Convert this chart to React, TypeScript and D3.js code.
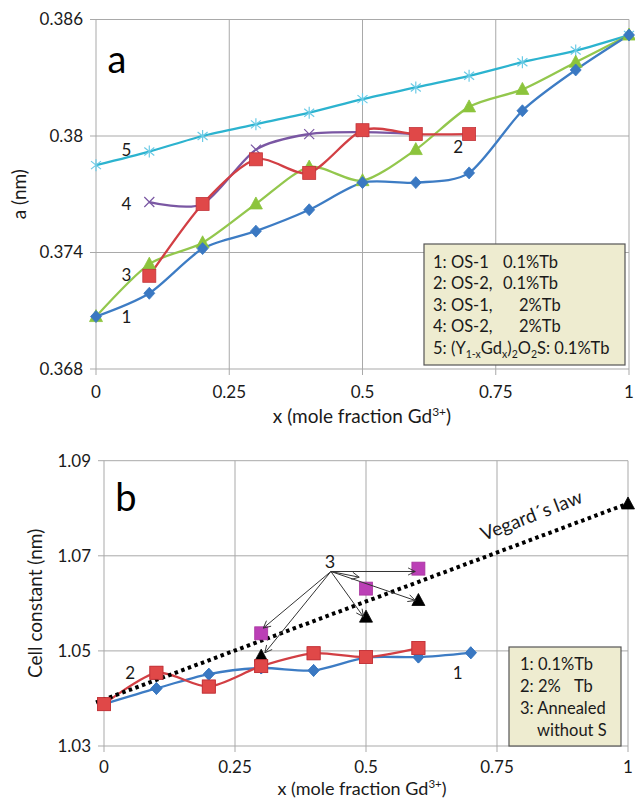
import * as d3 from "d3";

// ---- data ----------------------------------------------------------------
const xTicks = [0, 0.25, 0.5, 0.75, 1];
const xTickLabels = ["0", "0.25", "0.5", "0.75", "1"];

const topYTicks = [0.368, 0.374, 0.38, 0.386];
const topYTickLabels = ["0.368", "0.374", "0.38", "0.386"];

const botYTicks = [1.03, 1.05, 1.07, 1.09];
const botYTickLabels = ["1.03", "1.05", "1.07", "1.09"];

// panel a: lattice parameter a (nm)
const xFull = [0, 0.1, 0.2, 0.3, 0.4, 0.5, 0.6, 0.7, 0.8, 0.9, 1];
const os1Tb01 = [0.3707, 0.3719, 0.3742, 0.3751, 0.3762, 0.3776, 0.3776, 0.3781, 0.3813, 0.3834, 0.3852];
const xOs2Tb01 = [0.1, 0.2, 0.3, 0.4, 0.5, 0.6, 0.7];
const os2Tb01 = [0.3728, 0.3765, 0.3788, 0.3781, 0.3803, 0.3801, 0.3801];
const os1Tb2 = [0.3707, 0.3734, 0.3745, 0.3765, 0.3784, 0.3777, 0.3793, 0.3815, 0.3824, 0.3838, 0.3852];
const xOs2Tb2 = [0.1, 0.2, 0.3, 0.4, 0.5, 0.6];
const os2Tb2 = [0.3766, 0.3765, 0.3793, 0.3801, 0.3802, 0.3801];
const ygosTb01 = [0.3785, 0.3792, 0.38, 0.3806, 0.3812, 0.3819, 0.3825, 0.3831, 0.3838, 0.3844, 0.3852];

// panel b: cell constant (nm)
const xCell01 = [0, 0.1, 0.2, 0.3, 0.4, 0.5, 0.6, 0.7];
const cellTb01 = [1.0388, 1.0421, 1.0451, 1.0464, 1.0459, 1.0486, 1.0487, 1.0496];
const xCell2 = [0, 0.1, 0.2, 0.3, 0.4, 0.5, 0.6];
const cellTb2 = [1.0388, 1.0454, 1.0425, 1.0468, 1.0495, 1.0487, 1.0506];
const xAnnealSq = [0.3, 0.5, 0.6];
const annealSq = [1.0537, 1.0631, 1.0673];
const xAnnealTri = [0.3, 0.5, 0.6, 1];
const annealTri = [1.0489, 1.0571, 1.0606, 1.0809];
const vegardX = [0, 1];
const vegardY = [1.0385, 1.081];

// arrows for label "3": origin, then tips (data coords)
const arrowOrigin = [0.433, 1.0667];
const arrowTipsX = [0.304, 0.307, 0.487, 0.495, 0.594, 0.594];
const arrowTipsY = [1.0548, 1.0496, 1.0655, 1.0572, 1.0606, 1.0667];

// ---- style ---------------------------------------------------------------
const FONT = "Lato, 'Open Sans', sans-serif";
const GRID = "#a9a9a9";
const TEXT = "#1a1a1a";

type Shape = "diamond" | "square" | "triangle" | "cross" | "asterisk";

function Marker({ x, y, shape, fill, stroke }: { x: number; y: number; shape: Shape; fill: string; stroke?: string }) {
  if (shape === "diamond")
    return <path d={`M${x},${y - 6}L${x + 5.5},${y}L${x},${y + 6}L${x - 5.5},${y}Z`} fill={fill} stroke={stroke ?? fill} strokeWidth={0.8} />;
  if (shape === "square")
    return <rect x={x - 6.5} y={y - 6.5} width={13} height={13} fill={fill} stroke={stroke ?? fill} strokeWidth={0.8} />;
  if (shape === "triangle")
    return <path d={`M${x},${y - 7}L${x + 6.5},${y + 5}L${x - 6.5},${y + 5}Z`} fill={fill} stroke={stroke ?? fill} strokeWidth={0.8} />;
  if (shape === "cross")
    return (
      <path d={`M${x - 5},${y - 5}L${x + 5},${y + 5}M${x - 5},${y + 5}L${x + 5},${y - 5}`} stroke={fill} strokeWidth={1.2} fill="none" />
    );
  return (
    <path
      d={`M${x - 5},${y - 4}L${x + 5},${y + 4}M${x - 5},${y + 4}L${x + 5},${y - 4}M${x},${y - 6}L${x},${y + 6}`}
      stroke={fill}
      strokeWidth={1.2}
      fill="none"
    />
  );
}

type Series = { xs: number[]; ys: number[]; line?: string; fill: string; stroke?: string; shape: Shape };

function Panel({
  x0, x1, yTop, yBot, domain, yTicks, yTickLabels, series, tickGap,
}: {
  x0: number; x1: number; yTop: number; yBot: number; domain: [number, number];
  yTicks: number[]; yTickLabels: string[]; series: Series[]; tickGap: number;
}) {
  const x = d3.scaleLinear().domain([0, 1]).range([x0, x1]);
  const y = d3.scaleLinear().domain(domain).range([yBot, yTop]);
  const line = d3
    .line<[number, number]>()
    .x((d) => x(d[0]))
    .y((d) => y(d[1]))
    .curve(d3.curveCardinal.tension(0.2));
  return (
    <g>
      {yTicks.map((t, i) => (
        <g key={"y" + i}>
          <line x1={x0 - 6} x2={x1} y1={y(t)} y2={y(t)} stroke={GRID} strokeWidth={1} />
          <text x={x0 - 13} y={y(t)} dy="0.35em" textAnchor="end" fontSize={17} fill={TEXT}>
            {yTickLabels[i]}
          </text>
        </g>
      ))}
      {xTicks.map((t, i) => (
        <g key={"x" + i}>
          <line x1={x(t)} x2={x(t)} y1={yTop} y2={yBot + 6} stroke={GRID} strokeWidth={1} />
          <text x={x(t)} y={yBot + tickGap} dy="0.35em" textAnchor="middle" fontSize={17} fill={TEXT}>
            {xTickLabels[i]}
          </text>
        </g>
      ))}
      {series.map((s, i) =>
        s.line ? (
          <path
            key={"l" + i}
            d={line(s.xs.map((v, j) => [v, s.ys[j]] as [number, number])) ?? ""}
            fill="none"
            stroke={s.line}
            strokeWidth={2.3}
          />
        ) : null
      )}
      {series.map((s, i) =>
        s.xs.map((v, j) => <Marker key={`m${i}-${j}`} x={x(v)} y={y(s.ys[j])} shape={s.shape} fill={s.fill} stroke={s.stroke} />)
      )}
    </g>
  );
}

export default function App() {
  // panel geometry
  const ax0 = 96, ax1 = 629, aTop = 19.5, aBot = 369;
  const bx0 = 104, bx1 = 628, bTop = 460.7, bBot = 746;
  const xb = d3.scaleLinear().domain([0, 1]).range([bx0, bx1]);
  const yb = d3.scaleLinear().domain([1.03, 1.09]).range([bBot, bTop]);
  const xa = d3.scaleLinear().domain([0, 1]).range([ax0, ax1]);
  const ya = d3.scaleLinear().domain([0.368, 0.386]).range([aBot, aTop]);

  const seriesA: Series[] = [
    { xs: xFull, ys: ygosTb01, line: "#2cb3cf", fill: "#6ccbe6", shape: "asterisk" },
    { xs: xOs2Tb2, ys: os2Tb2, line: "#7a57a3", fill: "#7a57a3", shape: "cross" },
    { xs: xFull, ys: os1Tb2, line: "#93c74d", fill: "#8cc43c", shape: "triangle" },
    { xs: xOs2Tb01, ys: os2Tb01, line: "#d23f44", fill: "#e04848", stroke: "#c2343a", shape: "square" },
    { xs: xFull, ys: os1Tb01, line: "#3d7cc4", fill: "#3a78c2", shape: "diamond" },
  ];
  const seriesB: Series[] = [
    { xs: xCell01, ys: cellTb01, line: "#3d7cc4", fill: "#3a78c2", shape: "diamond" },
    { xs: xCell2, ys: cellTb2, line: "#d23f44", fill: "#e04848", stroke: "#c2343a", shape: "square" },
    { xs: xAnnealSq, ys: annealSq, fill: "#bb3fb6", stroke: "#a8369f", shape: "square" },
    { xs: xAnnealTri, ys: annealTri, fill: "#000", shape: "triangle" },
  ];

  const vx0 = xb(vegardX[0]), vy0 = yb(vegardY[0]), vx1 = xb(vegardX[1]), vy1 = yb(vegardY[1]);
  const vAngle = (Math.atan2(vy1 - vy0, vx1 - vx0) * 180) / Math.PI;
  const vLabelT = 0.832;
  const vLabelX = xb(vLabelT);
  const vLabelY = yb(vegardY[0] + (vegardY[1] - vegardY[0]) * vLabelT);

  const ox = xb(arrowOrigin[0]), oy = yb(arrowOrigin[1]);

  return (
    <svg
      width={635}
      height={800}
      style={{ position: "absolute", left: 0, top: 0, background: "#fff" }}
      fontFamily={FONT}
    >
      <defs>
        <marker id="open-arrow" viewBox="0 0 10 10" refX={9} refY={5} markerWidth={9} markerHeight={9} orient="auto" markerUnits="userSpaceOnUse">
          <path d="M1,1L9,5L1,9" fill="none" stroke="#333" strokeWidth={1} />
        </marker>
      </defs>

      {/* ---------- panel a ---------- */}
      <Panel x0={ax0} x1={ax1} yTop={aTop} yBot={aBot} domain={[0.368, 0.386]} yTicks={topYTicks} yTickLabels={topYTickLabels} series={seriesA} tickGap={23} />
      <text x={117} y={60} dy="0.35em" textAnchor="middle" fontSize={38} fill="#000">a</text>
      <text transform={`translate(19,${(aTop + aBot) / 2}) rotate(-90)`} textAnchor="middle" dy="0.35em" fontSize={19} fill={TEXT}>a (nm)</text>
      <text x={362} y={416} dy="0.35em" textAnchor="middle" fontSize={19} fill={TEXT}>
        x (mole fraction Gd<tspan fontSize={12} dy={-7}>3+</tspan><tspan dy={7}>)</tspan>
      </text>
      <g fontSize={17} fill={TEXT}>
        <text x={xa(0.1) - 18} y={ya(0.37928)} dy="0.35em" textAnchor="end">5</text>
        <text x={xa(0.1) - 18} y={ya(0.3765)} dy="0.35em" textAnchor="end">4</text>
        <text x={xa(0.1) - 18} y={ya(0.37284)} dy="0.35em" textAnchor="end">3</text>
        <text x={xa(0.1) - 18} y={ya(0.37068)} dy="0.35em" textAnchor="end">1</text>
        <text x={xa(0.7) - 11} y={ya(0.37943)} dy="0.35em" textAnchor="middle">2</text>
      </g>
      <rect x={424} y={244} width={201} height={121} fill="#eeecd0" stroke="#555" strokeWidth={1.2} />
      <g fontSize={16.5} fill={TEXT}>
        <text x={433} y={262} dy="0.35em">1: OS-1</text>
        <text x={503} y={262} dy="0.35em">0.1%Tb</text>
        <text x={433} y={283.5} dy="0.35em">2: OS-2,</text>
        <text x={503} y={283.5} dy="0.35em">0.1%Tb</text>
        <text x={433} y={305} dy="0.35em">3: OS-1,</text>
        <text x={519} y={305} dy="0.35em">2%Tb</text>
        <text x={433} y={326.5} dy="0.35em">4: OS-2,</text>
        <text x={519} y={326.5} dy="0.35em">2%Tb</text>
        <text x={433} y={348} dy="0.35em">
          5: (Y<tspan fontSize={10.5} dy={4}>1-x</tspan>
          <tspan dy={-4}>Gd</tspan>
          <tspan fontSize={10.5} dy={4}>x</tspan>
          <tspan dy={-4}>)</tspan>
          <tspan fontSize={10.5} dy={4}>2</tspan>
          <tspan dy={-4}>O</tspan>
          <tspan fontSize={10.5} dy={4}>2</tspan>
          <tspan dy={-4}>S: 0.1%Tb</tspan>
        </text>
      </g>

      {/* ---------- panel b ---------- */}
      <Panel x0={bx0} x1={bx1} yTop={bTop} yBot={bBot} domain={[1.03, 1.09]} yTicks={botYTicks} yTickLabels={botYTickLabels} series={seriesB.slice(0, 2)} tickGap={21} />
      <path
        d={`M${vx0 - 8},${vy0 + (8 * (vy1 - vy0)) / (vx1 - vx0)}L${vx1},${vy1}`}
        stroke="#000"
        strokeWidth={4}
        strokeDasharray="3.5 3.5"
        fill="none"
      />
      {seriesB.slice(2).map((s, i) =>
        s.xs.map((v, j) => <Marker key={`b${i}-${j}`} x={xb(v)} y={yb(s.ys[j])} shape={s.shape} fill={s.fill} stroke={s.stroke} />)
      )}
      {/* redraw red/blue markers above the dotted line */}
      {seriesB.slice(0, 2).map((s, i) =>
        s.xs.map((v, j) => <Marker key={`c${i}-${j}`} x={xb(v)} y={yb(s.ys[j])} shape={s.shape} fill={s.fill} stroke={s.stroke} />)
      )}
      {arrowTipsX.map((tx, i) => (
        <line key={"ar" + i} x1={ox} y1={oy} x2={xb(tx)} y2={yb(arrowTipsY[i])} stroke="#333" strokeWidth={1} markerEnd="url(#open-arrow)" />
      ))}
      <text x={ox - 1} y={oy - 10} dy="0.35em" textAnchor="middle" fontSize={18} fill={TEXT}>3</text>
      <text transform={`translate(${vLabelX},${vLabelY}) rotate(${vAngle})`} y={-17} textAnchor="middle" fontSize={19} fill={TEXT}>
        Vegard´s law
      </text>
      <text x={126} y={498} dy="0.35em" textAnchor="middle" fontSize={38} fill="#000">b</text>
      <text transform={`translate(35,${(bTop + bBot) / 2}) rotate(-90)`} textAnchor="middle" dy="0.35em" fontSize={19} fill={TEXT}>Cell constant (nm)</text>
      <text x={362} y={788.5} dy="0.35em" textAnchor="middle" fontSize={18} fill={TEXT}>
        x (mole fraction Gd<tspan fontSize={11.5} dy={-7}>3+</tspan><tspan dy={7}>)</tspan>
      </text>
      <g fontSize={17} fill={TEXT}>
        <text x={xb(0.05)} y={yb(1.0454)} dy="0.35em" textAnchor="middle">2</text>
        <text x={xb(0.675)} y={yb(1.0454)} dy="0.35em" textAnchor="middle">1</text>
      </g>
      <rect x={509} y={647} width={112} height={99} fill="#eeecd0" stroke="#555" strokeWidth={1.2} />
      <g fontSize={16.5} fill={TEXT}>
        <text x={520} y={664.5} dy="0.35em">1: 0.1%Tb</text>
        <text x={520} y={686} dy="0.35em">2: 2%</text>
        <text x={574} y={686} dy="0.35em">Tb</text>
        <text x={520} y={708} dy="0.35em">3: Annealed</text>
        <text x={537} y={730} dy="0.35em">without S</text>
      </g>
    </svg>
  );
}
